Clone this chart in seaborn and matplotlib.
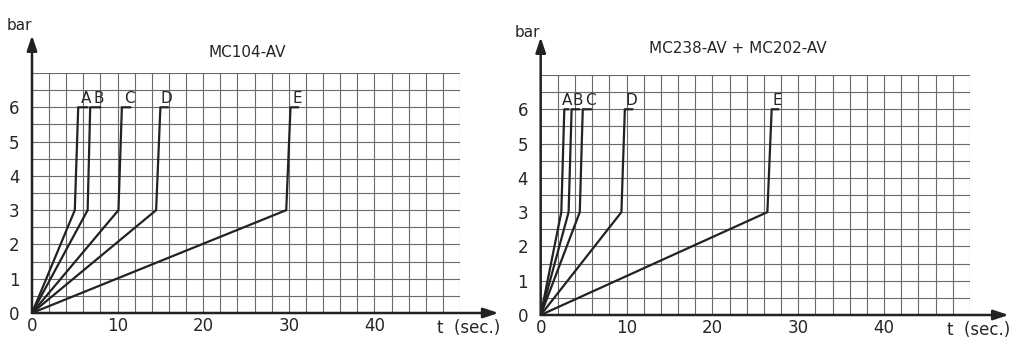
import pandas as pd
import matplotlib.pyplot as plt
import seaborn as sns

# 数据：每条曲线 (0,0) -> (拐点, 3 bar) -> (顶点, 6 bar) -> (终点, 6 bar)
curves = ['A', 'B', 'C', 'D', 'E']
p_knee = 3
p_top = 6

left_title = 'MC104-AV'
left_knee = [5.0, 6.5, 10.1, 14.5, 29.7]
left_top = [5.4, 6.8, 10.5, 15.0, 30.2]
left_end = [6.5, 8.0, 11.5, 15.9, 31.1]

right_title = 'MC238-AV + MC202-AV'
right_knee = [2.4, 3.25, 4.55, 9.4, 26.4]
right_top = [2.75, 3.6, 4.9, 9.8, 26.9]
right_end = [3.25, 4.5, 5.9, 10.7, 27.7]

x_ticks = [0, 10, 20, 30, 40]
y_ticks = [0, 1, 2, 3, 4, 5, 6]


def make_df(knee, top, end):
    rows = []
    for c, k, t, e in zip(curves, knee, top, end):
        rows += [(c, 0, 0), (c, k, p_knee), (c, t, p_top), (c, e, p_top)]
    return pd.DataFrame(rows, columns=['curve', 't', 'bar'])


sns.set_style('white')
plt.rcParams['font.family'] = ['DejaVu Sans']

fig = plt.figure(figsize=(10.23, 3.54), dpi=100)
W, H = 1023, 354
ax1 = fig.add_axes([32 / W, (H - 313) / H, 428 / W, 240 / H])
ax2 = fig.add_axes([540.7 / W, (H - 315) / H, 429.3 / W, 240 / H])

panels = [
    (ax1, left_title, left_knee, left_top, left_end, 25.1, 7.6, 8.4),
    (ax2, right_title, right_knee, right_top, right_end, 22.9, 7.78, 8.25),
]

for ax, title, knee, top, end, tx, ty, by in panels:
    df = make_df(knee, top, end)
    ax.set_xlim(0, 50)
    ax.set_ylim(0, 7)
    # 网格
    for gx in range(2, 51, 2):
        ax.axvline(gx, color='#6a6a6a', lw=0.8, zorder=1)
    for gy in [i * 0.5 for i in range(1, 15)]:
        ax.axhline(gy, color='#6a6a6a', lw=0.8, zorder=1)

    sns.lineplot(data=df, x='t', y='bar', units='curve', estimator=None,
                 sort=False, color='#222222', lw=1.6, ax=ax, zorder=3)

    for c, e in zip(curves, end):
        ax.text(e - 0.15, 6.03, c, ha='center', va='bottom', fontsize=11)

    ax.text(tx, ty, title, ha='center', va='center', fontsize=11)

    # 坐标轴箭头
    ax.annotate('', xy=(54.5, 0), xytext=(0, 0), annotation_clip=False,
                arrowprops=dict(arrowstyle='-|>,head_length=0.9,head_width=0.3',
                                color='#222222', lw=1.8, shrinkA=0, shrinkB=0))
    ax.annotate('', xy=(0, 8.1), xytext=(0, 0), annotation_clip=False,
                arrowprops=dict(arrowstyle='-|>,head_length=0.9,head_width=0.3',
                                color='#222222', lw=1.8, shrinkA=0, shrinkB=0))
    ax.text(-1.5, by, 'bar', ha='center', va='center', fontsize=11)
    ax.text(51.0, -0.45, 't  (sec.)', ha='center', va='center', fontsize=12)

    ax.set_xticks(x_ticks)
    ax.set_yticks(y_ticks)
    ax.tick_params(axis='x', length=0, labelsize=12, pad=3)
    ax.tick_params(axis='y', length=0, labelsize=12, pad=9)
    ax.set_xlabel('')
    ax.set_ylabel('')
    for s in ax.spines.values():
        s.set_visible(False)
    ax.grid(False)

fig.savefig('out.png', dpi=100, facecolor='white')
